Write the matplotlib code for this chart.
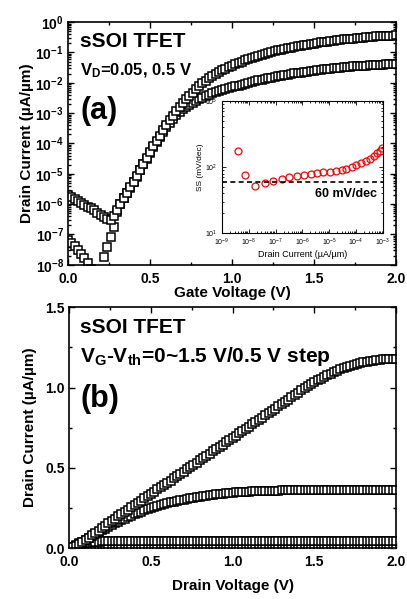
import numpy as np
import matplotlib
matplotlib.use('Agg')
import matplotlib.pyplot as plt
from matplotlib.ticker import MultipleLocator, FixedLocator, LogLocator, NullFormatter

plt.rcParams['font.family'] = ['Liberation Sans', 'DejaVu Sans']
plt.rcParams['font.weight'] = 'bold'
plt.rcParams['mathtext.fontset'] = 'custom'
plt.rcParams['mathtext.rm'] = 'Liberation Sans'
plt.rcParams['mathtext.bf'] = 'Liberation Sans:bold'
plt.rcParams['mathtext.it'] = 'Liberation Sans:bold'

# ---- (a) transfer curves, gate voltage sweep 0..2 V in 0.02 V steps ----
vg = np.linspace(0.0, 2.0, 101)
# log10 of drain current (uA/um), VD = 0.5 V
log_id_vd05 = [
    -5.70, -5.78, -5.84, -5.90, -5.96, -6.02, -6.08, -6.14, -6.21, -6.28,
    -6.35, -6.42, -6.49, -6.53, -6.40, -6.18, -5.98, -5.80, -5.63, -5.45,
    -5.27, -5.08, -4.88, -4.68, -4.48, -4.29, -4.10, -3.92, -3.74, -3.56,
    -3.39, -3.23, -3.08, -2.94, -2.80, -2.67, -2.55, -2.43, -2.32, -2.21,
    -2.10, -2.01, -1.93, -1.85, -1.78, -1.71, -1.65, -1.59, -1.54, -1.49,
    -1.44, -1.39, -1.34, -1.30, -1.26, -1.22, -1.18, -1.14, -1.11, -1.07,
    -1.04, -1.01, -0.98, -0.96, -0.93, -0.91, -0.88, -0.86, -0.84, -0.82,
    -0.80, -0.78, -0.76, -0.74, -0.72, -0.71, -0.69, -0.67, -0.66, -0.64,
    -0.63, -0.61, -0.60, -0.59, -0.57, -0.56, -0.55, -0.54, -0.53, -0.52,
    -0.51, -0.50, -0.49, -0.48, -0.47, -0.47, -0.46, -0.45, -0.45, -0.44,
    -0.43]
# log10 of drain current (uA/um), VD = 0.05 V
log_id_vd005 = [
    -7.17, -7.27, -7.38, -7.50, -7.63, -7.78, -7.95, -8.15, -8.40, -8.60,
    -8.20, -7.75, -7.40, -7.07, -6.74, -6.25, -6.00, -5.81, -5.64, -5.46,
    -5.28, -5.09, -4.89, -4.69, -4.50, -4.31, -4.12, -3.95, -3.78, -3.61,
    -3.45, -3.31, -3.18, -3.06, -2.95, -2.86, -2.79, -2.72, -2.66, -2.60,
    -2.54, -2.49, -2.44, -2.39, -2.35, -2.31, -2.27, -2.24, -2.21, -2.18,
    -2.15, -2.12, -2.09, -2.06, -2.03, -2.00, -1.97, -1.95, -1.92, -1.90,
    -1.87, -1.85, -1.83, -1.81, -1.79, -1.77, -1.75, -1.73, -1.71, -1.69,
    -1.68, -1.66, -1.64, -1.63, -1.61, -1.60, -1.58, -1.57, -1.56, -1.54,
    -1.53, -1.52, -1.51, -1.50, -1.49, -1.48, -1.47, -1.46, -1.45, -1.44,
    -1.43, -1.43, -1.42, -1.41, -1.41, -1.40, -1.40, -1.39, -1.39, -1.38,
    -1.38]

# inset: subthreshold swing vs drain current
ss_log_current = [-8.41, -8.13, -7.76, -7.39, -7.08, -6.77, -6.49, -6.21, -5.94, -5.68,
                  -5.44, -5.22, -4.98, -4.75, -4.54, -4.36, -4.17, -3.99, -3.80, -3.65,
                  -3.49, -3.34, -3.21, -3.10, -3.02]
ss_mv_dec = [178, 75, 52, 57, 61, 65, 70, 74, 77, 80,
             81, 83, 84, 87, 90, 95, 100, 106, 115, 124,
             134, 148, 162, 178, 195]

# ---- (b) output curves, drain voltage sweep 0..2 V in 0.02 V steps ----
vd = np.linspace(0.0, 2.0, 101)
id_vg15 = [
    0.000, 0.006, 0.014, 0.024, 0.036, 0.050, 0.064, 0.079, 0.094, 0.109,
    0.124, 0.139, 0.154, 0.168, 0.183, 0.197, 0.211, 0.225, 0.239, 0.253,
    0.267, 0.281, 0.295, 0.309, 0.323, 0.337, 0.351, 0.365, 0.379, 0.393,
    0.407, 0.421, 0.435, 0.449, 0.463, 0.477, 0.491, 0.505, 0.519, 0.533,
    0.547, 0.561, 0.575, 0.589, 0.603, 0.617, 0.631, 0.645, 0.659, 0.673,
    0.687, 0.701, 0.715, 0.729, 0.743, 0.757, 0.771, 0.785, 0.799, 0.813,
    0.827, 0.841, 0.855, 0.869, 0.883, 0.897, 0.911, 0.925, 0.939, 0.953,
    0.968, 0.982, 0.995, 1.008, 1.021, 1.033, 1.045, 1.056, 1.067, 1.077,
    1.087, 1.096, 1.105, 1.113, 1.121, 1.128, 1.135, 1.141, 1.147, 1.152,
    1.157, 1.161, 1.165, 1.168, 1.171, 1.173, 1.175, 1.177, 1.178, 1.179,
    1.180]
id_vg10 = [
    0.000, 0.008, 0.018, 0.029, 0.040, 0.052, 0.064, 0.076, 0.088, 0.100,
    0.111, 0.122, 0.133, 0.144, 0.154, 0.164, 0.174, 0.184, 0.193, 0.202,
    0.211, 0.219, 0.227, 0.235, 0.242, 0.249, 0.256, 0.262, 0.268, 0.274,
    0.279, 0.284, 0.289, 0.294, 0.298, 0.302, 0.306, 0.310, 0.314, 0.318,
    0.321, 0.324, 0.327, 0.330, 0.333, 0.335, 0.337, 0.339, 0.341, 0.343,
    0.345, 0.347, 0.348, 0.350, 0.351, 0.352, 0.353, 0.354, 0.355, 0.356,
    0.357, 0.357, 0.358, 0.358, 0.358, 0.359, 0.359, 0.359, 0.359, 0.360,
    0.360, 0.360, 0.360, 0.360, 0.360, 0.360, 0.360, 0.360, 0.360, 0.360,
    0.360, 0.360, 0.360, 0.360, 0.360, 0.360, 0.361, 0.361, 0.361, 0.361,
    0.361, 0.361, 0.361, 0.361, 0.361, 0.361, 0.361, 0.361, 0.361, 0.361,
    0.361]
id_vg05 = [
    0.000, 0.006, 0.012, 0.018, 0.024, 0.029, 0.033, 0.036, 0.039, 0.041,
    0.042, 0.043, 0.044, 0.044, 0.044, 0.044, 0.044, 0.044, 0.044, 0.044,
    0.044, 0.044, 0.044, 0.044, 0.044, 0.044, 0.044, 0.044, 0.044, 0.044,
    0.045, 0.045, 0.045, 0.045, 0.045, 0.045, 0.045, 0.045, 0.045, 0.045,
    0.045, 0.045, 0.045, 0.045, 0.045, 0.045, 0.045, 0.045, 0.045, 0.045,
    0.045, 0.045, 0.045, 0.045, 0.045, 0.045, 0.045, 0.045, 0.045, 0.045,
    0.045, 0.045, 0.045, 0.045, 0.045, 0.045, 0.045, 0.045, 0.045, 0.045,
    0.046, 0.046, 0.046, 0.046, 0.046, 0.046, 0.046, 0.046, 0.046, 0.046,
    0.046, 0.046, 0.046, 0.046, 0.046, 0.046, 0.046, 0.046, 0.046, 0.046,
    0.046, 0.046, 0.046, 0.046, 0.046, 0.046, 0.046, 0.046, 0.046, 0.046,
    0.046]
id_vg00 = [
    0.0, 0.0, 0.0, 0.0, 0.0, 0.0, 0.0, 0.0, 0.0, 0.0,
    0.0, 0.0, 0.0, 0.0, 0.0, 0.0, 0.0, 0.0, 0.0, 0.0,
    0.0, 0.0, 0.0, 0.0, 0.0, 0.0, 0.0, 0.0, 0.0, 0.0,
    0.0, 0.0, 0.0, 0.0, 0.0, 0.0, 0.0, 0.0, 0.0, 0.0,
    0.0, 0.0, 0.0, 0.0, 0.0, 0.0, 0.0, 0.0, 0.0, 0.0,
    0.0, 0.0, 0.0, 0.0, 0.0, 0.0, 0.0, 0.0, 0.0, 0.0,
    0.0, 0.0, 0.0, 0.0, 0.0, 0.0, 0.0, 0.0, 0.0, 0.0,
    0.0, 0.0, 0.0, 0.0, 0.0, 0.0, 0.0, 0.0, 0.0, 0.0,
    0.0, 0.0, 0.0, 0.0, 0.0, 0.0, 0.0, 0.0, 0.0, 0.0,
    0.0, 0.0, 0.0, 0.0, 0.0, 0.0, 0.0, 0.0, 0.0, 0.0,
    0.0]

sq = dict(marker='s', linestyle='none', ms=5.5, mfc='white', mec='black', mew=1.1)


def style_ticks(ax, lw=1.2):
    for s in ax.spines.values():
        s.set_linewidth(lw)
    ax.tick_params(which='both', direction='in', top=True, right=True, width=1.0)
    ax.tick_params(which='major', length=4, labelsize=10)
    ax.tick_params(which='minor', length=2)


fig = plt.figure(figsize=(4.07, 5.99), dpi=100)

# ---------------- panel (a) ----------------
ax1 = fig.add_axes([0.167, 0.558, 0.806, 0.405])
ax1.semilogy(vg, 10 ** np.array(log_id_vd005), **sq)
ax1.semilogy(vg, 10 ** np.array(log_id_vd05), **sq)
ax1.set_xlim(0, 2.0)
ax1.set_ylim(1e-8, 1)
decades = list(range(-8, 1))
ax1.yaxis.set_major_locator(FixedLocator([10.0 ** d for d in decades]))
ax1.set_yticklabels([r'$\mathbf{10^{%d}}$' % d for d in decades])
ax1.yaxis.set_minor_locator(LogLocator(base=10, subs=np.arange(2, 10), numticks=20))
ax1.yaxis.set_minor_formatter(NullFormatter())
ax1.xaxis.set_minor_locator(MultipleLocator(0.25))
style_ticks(ax1)
ax1.tick_params(axis='x', pad=5)
ax1.tick_params(axis='y', pad=3)
ax1.set_xticks([0, 0.5, 1.0, 1.5, 2.0])
ax1.set_xticklabels(['0.0', '0.5', '1.0', '1.5', '2.0'])
ax1.set_xlabel('Gate Voltage (V)', fontsize=11, fontweight='bold', labelpad=0)
ax1.set_ylabel('Drain Current (\u00b5A/\u00b5m)', fontsize=11, fontweight='bold', labelpad=1)

ax1.text(0.037, 0.897, 'sSOI TFET', transform=ax1.transAxes, fontsize=15,
         fontweight='bold', va='baseline')
ax1.text(0.037, 0.782, r'V$_{\mathbf{D}}$=0.05, 0.5 V', transform=ax1.transAxes,
         fontsize=12, fontweight='bold', va='baseline')
ax1.text(0.037, 0.60, '(a)', transform=ax1.transAxes, fontsize=22,
         fontweight='bold', va='baseline')

# inset: SS vs drain current
ins = fig.add_axes([0.545, 0.611, 0.396, 0.220])
ins.loglog(10 ** np.array(ss_log_current), ss_mv_dec, marker='o', linestyle='none',
           ms=5, mfc='none', mec='red', mew=0.9)
ins.axhline(60, color='black', linestyle='--', linewidth=1.2, dashes=(3, 2))
ins.set_xlim(1e-9, 1e-3)
ins.set_ylim(10, 1000)
xdec = list(range(-9, -2))
ins.xaxis.set_major_locator(FixedLocator([10.0 ** d for d in xdec]))
ins.set_xticklabels([r'$\mathregular{10^{%d}}$' % d for d in xdec])
ins.yaxis.set_major_locator(FixedLocator([10, 100, 1000]))
ins.set_yticklabels([r'$\mathregular{10^{%d}}$' % d for d in (1, 2, 3)])
ins.xaxis.set_minor_locator(LogLocator(base=10, subs=np.arange(2, 10), numticks=20))
ins.yaxis.set_minor_locator(LogLocator(base=10, subs=np.arange(2, 10), numticks=20))
ins.xaxis.set_minor_formatter(NullFormatter())
ins.yaxis.set_minor_formatter(NullFormatter())
for s in ins.spines.values():
    s.set_linewidth(0.8)
ins.tick_params(which='both', direction='in', top=True, right=True, width=0.6)
ins.tick_params(which='major', length=3, labelsize=5.0)
ins.tick_params(axis='x', pad=3)
ins.tick_params(axis='y', pad=3.5)
ins.tick_params(which='minor', length=1.5)
for lab in ins.get_xticklabels() + ins.get_yticklabels():
    lab.set_fontweight('normal')
ins.set_xlabel('Drain Current (\u00b5A/\u00b5m)', fontsize=6.5, fontweight='normal', labelpad=1)
ins.set_ylabel('SS (mV/dec)', fontsize=6, fontweight='normal', labelpad=0.5)
ins.text(0.96, 0.27, '60 mV/dec', transform=ins.transAxes, fontsize=9,
         fontweight='bold', ha='right', va='baseline')

# ---------------- panel (b) ----------------
ax2 = fig.add_axes([0.170, 0.085, 0.803, 0.402])
ax2.plot(vd, id_vg00, **sq)
ax2.plot(vd, id_vg05, **sq)
ax2.plot(vd, id_vg10, **sq)
ax2.plot(vd, id_vg15, **sq)
ax2.set_xlim(0, 2.0)
ax2.set_ylim(0, 1.5)
ax2.xaxis.set_major_locator(MultipleLocator(0.5))
ax2.xaxis.set_minor_locator(MultipleLocator(0.25))
ax2.yaxis.set_major_locator(MultipleLocator(0.5))
ax2.yaxis.set_minor_locator(MultipleLocator(0.25))
ax2.xaxis.set_major_formatter(plt.FormatStrFormatter('%.1f'))
ax2.yaxis.set_major_formatter(plt.FormatStrFormatter('%.1f'))
style_ticks(ax2)
ax2.tick_params(axis='x', pad=5)
ax2.tick_params(axis='y', pad=3)
ax2.set_xlabel('Drain Voltage (V)', fontsize=11, fontweight='bold', labelpad=7)
ax2.set_ylabel('Drain Current (\u00b5A/\u00b5m)', fontsize=11, fontweight='bold', labelpad=6)

ax2.text(0.034, 0.892, 'sSOI TFET', transform=ax2.transAxes, fontsize=15,
         fontweight='bold', va='baseline')
ax2.text(0.034, 0.772, r'V$_{\mathbf{G}}$-V$_{\mathbf{th}}$=0~1.5 V/0.5 V step',
         transform=ax2.transAxes, fontsize=15, fontweight='bold', va='baseline')
ax2.text(0.034, 0.585, '(b)', transform=ax2.transAxes, fontsize=22,
         fontweight='bold', va='baseline')

for lab in ax1.get_xticklabels() + ax1.get_yticklabels() + ax2.get_xticklabels() + ax2.get_yticklabels():
    lab.set_fontweight('bold')

fig.savefig('out.png', dpi=100)
